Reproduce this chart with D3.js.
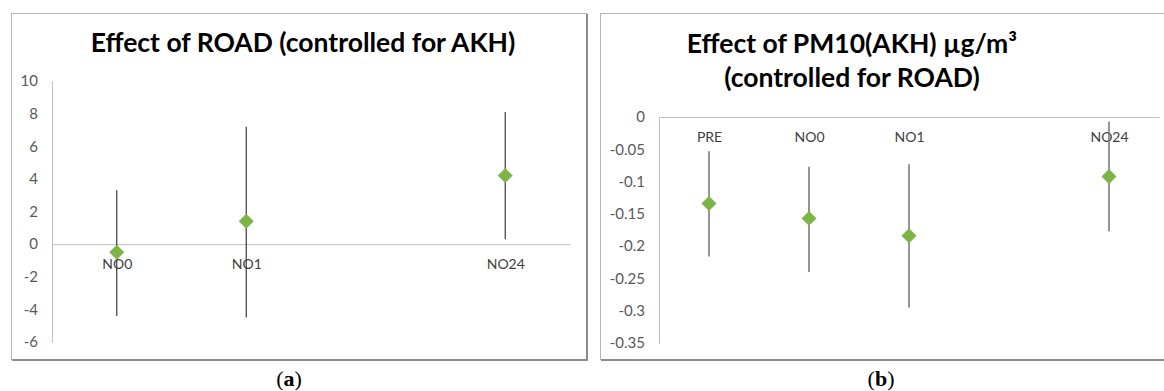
<!DOCTYPE html>
<html>
<head>
<meta charset="utf-8">
<script src="https://cdn.jsdelivr.net/npm/d3@7"></script>
<style>
  body { margin: 0; background: #fff; }
  svg { display: block; }
</style>
</head>
<body>
<div id="chart"></div>
<script>
// panel (a) data
var catsA = ["NO0", "NO1", "NO24"];
var posA = [1, 2, 4];
var estA = [-0.5, 1.4, 4.2];
var lowA = [-4.4, -4.5, 0.3];
var highA = [3.3, 7.2, 8.1];
var ticksA = [10, 8, 6, 4, 2, 0, -2, -4, -6];

// panel (b) data
var catsB = ["PRE", "NO0", "NO1", "NO24"];
var posB = [1, 2, 3, 5];
var estB = [-0.134, -0.157, -0.184, -0.092];
var lowB = [-0.216, -0.240, -0.295, -0.177];
var highB = [-0.053, -0.077, -0.073, -0.007];
var ticksB = [0, -0.05, -0.1, -0.15, -0.2, -0.25, -0.3, -0.35];

var W = 1164, H = 391;
var font = "Lato, 'Open Sans', sans-serif";
var green = "#7cb445";

var svg = d3.select("#chart")
  .append("svg")
    .attr("width", W)
    .attr("height", H);

function drawPanel(p) {
  var g = svg.append("g");

  // frame
  g.append("rect")
    .attr("x", p.frame[0] + 0.5).attr("y", p.frame[1] + 0.5)
    .attr("width", p.frame[2] - p.frame[0]).attr("height", p.frame[3] - p.frame[1])
    .attr("fill", "#fff")
    .attr("stroke", "#b4b4b4");
  g.append("path")
    .attr("d", "M" + (p.frame[2] + 1) + "," + (p.frame[1] + 1) + "V" + (p.frame[3] + 1) + "H" + (p.frame[0] + 1))
    .attr("fill", "none")
    .attr("stroke", "#8c8c8c")
    .attr("stroke-width", 2);

  // title
  var t = g.append("text")
    .attr("font-family", font)
    .attr("font-weight", "bold")
    .attr("font-size", p.titleSize)
    .attr("fill", "#000")
    .attr("text-anchor", "middle");
  p.title.forEach(function(line, i) {
    t.append("tspan")
      .attr("x", p.titleX)
      .attr("y", p.titleY + i * 34)
      .text(line);
  });

  var x = d3.scaleLinear().domain(p.xDomain).range(p.xRange);
  var y = d3.scaleLinear().domain(p.yDomain).range(p.yRange);

  // Y axis
  var yAxis = g.append("g")
    .attr("transform", "translate(" + p.xRange[0] + ",0)")
    .call(d3.axisLeft(y).tickValues(p.ticks).tickSize(0).tickSizeOuter(0).tickPadding(14)
      .tickFormat(function(d) { return String(+d.toFixed(2)); }));
  yAxis.select(".domain").attr("stroke", "#bfbfbf");
  yAxis.selectAll("text")
    .attr("font-family", font)
    .attr("font-size", 15)
    .attr("fill", "#595959");

  // X axis at zero, category labels under it
  var xAxis = g.append("g")
    .attr("transform", "translate(0," + y(0) + ")")
    .call(d3.axisBottom(x).tickValues(p.pos).tickSize(0).tickSizeOuter(0).tickPadding(15)
      .tickFormat(function(d, i) { return p.cats[i]; }));
  xAxis.select(".domain").attr("stroke", "#bfbfbf");
  xAxis.selectAll("text")
    .attr("font-family", font)
    .attr("font-size", 14)
    .attr("fill", "#404040");

  var rows = p.cats.map(function(c, i) {
    return { cat: c, pos: p.pos[i], est: p.est[i], low: p.low[i], high: p.high[i] };
  });

  // error bars
  g.append("g").selectAll("line")
    .data(rows)
    .join("line")
      .attr("x1", function(d) { return x(d.pos); })
      .attr("x2", function(d) { return x(d.pos); })
      .attr("y1", function(d) { return y(d.low); })
      .attr("y2", function(d) { return y(d.high); })
      .attr("stroke", p.barColor)
      .attr("stroke-width", p.barWidth);

  // diamonds
  var diamond = d3.symbol().type(d3.symbolSquare).size(112);
  g.append("g").selectAll("path")
    .data(rows)
    .join("path")
      .attr("d", diamond)
      .attr("transform", function(d) { return "translate(" + x(d.pos) + "," + y(d.est) + ") rotate(45)"; })
      .attr("fill", green);

  // caption
  var cap = g.append("text")
    .attr("x", p.capX)
    .attr("y", 386)
    .attr("text-anchor", "middle")
    .attr("font-family", "'Liberation Serif', 'DejaVu Serif', serif")
    .attr("font-size", 22)
    .attr("fill", "#000");
  cap.append("tspan").text("(");
  cap.append("tspan").attr("font-weight", "bold").text(p.capLetter);
  cap.append("tspan").text(")");
}

drawPanel({
  frame: [11, 13, 586, 359],
  title: ["Effect of ROAD (controlled for AKH)"],
  titleX: 303, titleY: 52, titleSize: 26.5,
  xDomain: [0.5, 4.5], xRange: [52, 570],
  yDomain: [-6, 10], yRange: [342, 81],
  ticks: ticksA,
  cats: catsA, pos: posA, est: estA, low: lowA, high: highA,
  barColor: "#3a3a3a", barWidth: 1.2,
  capX: 289, capLetter: "a"
});

drawPanel({
  frame: [600, 13, 1166, 359],
  title: ["Effect of PM10(AKH) µg/m³", "(controlled for ROAD)"],
  titleX: 852, titleY: 53, titleSize: 26.5,
  xDomain: [0.5, 5.5], xRange: [659, 1159],
  yDomain: [-0.35, 0], yRange: [343, 117],
  ticks: ticksB,
  cats: catsB, pos: posB, est: estB, low: lowB, high: highB,
  barColor: "#7a7a7a", barWidth: 1.6,
  capX: 881, capLetter: "b"
});
</script>
</body>
</html>
